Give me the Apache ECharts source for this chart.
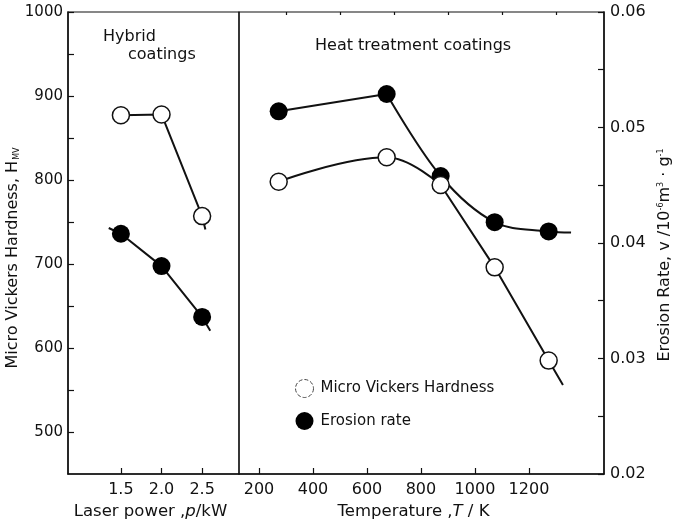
<!DOCTYPE html>
<html>
<head>
<meta charset="utf-8">
<script src="https://cdn.jsdelivr.net/npm/echarts@6/dist/echarts.min.js"></script>
<style>html,body{margin:0;padding:0;background:#fff;}#c{width:675px;height:522px;}</style>
</head>
<body>
<div id="c"></div>
<script>
// ---- data ----
const laserPower = [1.5, 2.0, 2.5];
const hybridHardness = [877, 878, 757];
const hybridErosion = [0.0408, 0.0380, 0.0336];
const temperature = [273, 673, 873, 1073, 1273];
const heatHardness = [798, 827, 794, 696, 585];
const heatErosion = [0.0514, 0.0529, 0.0458, 0.0418, 0.0410];
// ends of the drawn fit lines (beyond the markers)
const hybridHardnessLineEnd = [2.54, 741];
const hybridErosionLineStart = [1.35, 0.0413];
const hybridErosionLineEnd = [2.60, 0.0324];
const heatHardnessLineEnd = [1326, 556];
const heatErosionLineEnd = [1356, 0.0409];
// tick values
const hardnessTicks = [500, 600, 700, 800, 900, 1000];
const hardnessMinorTicks = [550, 650, 750, 850, 950];
const erosionTicks = [0.02, 0.03, 0.04, 0.05, 0.06];
const erosionMinorTicks = [0.025, 0.035, 0.045, 0.055];
const laserTicks = [1.5, 2.0, 2.5];
const tempTicks = [200, 400, 600, 800, 1000, 1200];
const tempMinorTicks = [300, 500, 700, 900, 1100, 1300];

const FONT = 'DejaVu Sans';
const INK = '#111';

const pairs = (xs, ys) => xs.map((x, i) => [x, ys[i]]);

const chart = echarts.init(document.getElementById('c'), null, {renderer: 'canvas'});

const gridCommon = {top: 12, height: 462, show: true, borderColor: INK, borderWidth: 1.2,
  backgroundColor: 'transparent', containLabel: false, outerBoundsMode: 'none'};

const lineBase = {type: 'line', symbol: 'none', z: 2, lineStyle: {color: INK, width: 2}};

const option = {
  animation: false,
  backgroundColor: '#fff',
  textStyle: {fontFamily: FONT, color: INK},
  grid: [
    Object.assign({left: 68, width: 171}, gridCommon),
    Object.assign({left: 239, width: 365}, gridCommon)
  ],
  xAxis: [
    {
      type: 'value', gridIndex: 0, min: 0.8485, max: 2.954,
      axisLine: {show: true, lineStyle: {color: INK, width: 1.5}},
      axisTick: {show: true, inside: true, length: 6, customValues: laserTicks, lineStyle: {color: INK, width: 1.2}},
      axisLabel: {customValues: laserTicks, formatter: v => v.toFixed(1), fontFamily: FONT, fontSize: 16, color: INK, margin: 8},
      splitLine: {show: false},
      name: 'Laser power ,{i|p}/kW', nameLocation: 'middle', nameGap: 24,
      nameTextStyle: {fontFamily: FONT, fontSize: 16.5, color: INK, padding: [0, 6, 0, 0],
        rich: {i: {fontFamily: FONT, fontSize: 16.5, fontStyle: 'italic', color: INK}}}
    },
    {
      type: 'value', gridIndex: 1, min: 126, max: 1478,
      axisLine: {show: true, lineStyle: {color: INK, width: 1.5}},
      axisTick: {show: true, inside: true, length: 6, customValues: tempTicks, lineStyle: {color: INK, width: 1.2}},
      axisLabel: {customValues: tempTicks, formatter: v => String(v), fontFamily: FONT, fontSize: 16, color: INK, margin: 8},
      splitLine: {show: false},
      name: 'Temperature ,{i|T} / K', nameLocation: 'middle', nameGap: 24,
      nameTextStyle: {fontFamily: FONT, fontSize: 16.5, color: INK, padding: [0, 16, 0, 0],
        rich: {i: {fontFamily: FONT, fontSize: 16.5, fontStyle: 'italic', color: INK}}}
    },
    {
      type: 'value', gridIndex: 1, min: 126, max: 1478,
      axisLine: {show: false},
      axisTick: {show: true, inside: true, length: 3, customValues: tempMinorTicks, lineStyle: {color: INK, width: 1.2}},
      axisLabel: {show: false},
      splitLine: {show: false}
    }
  ],
  yAxis: [
    {
      type: 'value', gridIndex: 0, min: 450, max: 1000, position: 'left',
      axisLine: {show: true, lineStyle: {color: INK, width: 1.5}},
      axisTick: {show: true, inside: true, length: 6, customValues: hardnessTicks.concat(hardnessMinorTicks), lineStyle: {color: INK, width: 1.2}},
      axisLabel: {customValues: hardnessTicks, formatter: v => String(v), fontFamily: FONT, fontSize: 15, color: INK, margin: 5},
      splitLine: {show: false},
      name: '{n|Micro Vickers Hardness, H}{s|MV}', nameLocation: 'middle', nameGap: 42, nameRotate: 90,
      nameTextStyle: {padding: [0, 30, 0, 0],
        rich: {n: {fontFamily: FONT, fontSize: 16, color: INK}, s: {fontFamily: FONT, fontSize: 8, color: INK, verticalAlign: 'bottom', padding: [0, 0, 0, 1]}}}
    },
    {
      type: 'value', gridIndex: 0, min: 0.02, max: 0.06, show: false
    },
    {
      type: 'value', gridIndex: 1, min: 450, max: 1000, show: false
    },
    {
      type: 'value', gridIndex: 1, min: 0.02, max: 0.06, position: 'right',
      axisLine: {show: true, lineStyle: {color: INK, width: 1.5}},
      axisTick: {show: true, inside: true, length: 6, customValues: erosionTicks.concat(erosionMinorTicks), lineStyle: {color: INK, width: 1.2}},
      axisLabel: {customValues: erosionTicks, formatter: v => v.toFixed(2), fontFamily: FONT, fontSize: 16, color: INK, margin: 6},
      splitLine: {show: false},
      name: '{n|Erosion Rate, v /10}{p|-6}{n|m}{p|3}{n| · g}{p|-1}', nameLocation: 'middle', nameGap: 42, nameRotate: 90,
      nameTextStyle: {padding: [0, 24, 0, 0],
        rich: {n: {fontFamily: FONT, fontSize: 16, color: INK}, p: {fontFamily: FONT, fontSize: 8, color: INK, verticalAlign: 'top'}}}
    }
  ],
  legend: {
    orient: 'vertical', left: 290, top: 374, itemWidth: 22, itemHeight: 18, itemGap: 14,
    icon: 'circle',
    textStyle: {fontFamily: FONT, fontSize: 15, color: INK},
    data: [
      {name: 'Micro Vickers Hardness', itemStyle: {color: '#fff', borderColor: '#444', borderWidth: 1, borderType: 'dashed'}},
      {name: 'Erosion rate', itemStyle: {color: '#000', borderColor: '#000'}}
    ]
  },
  graphic: [
    {type: 'text', left: 103, top: 29, style: {text: 'Hybrid', font: '16px "DejaVu Sans"', fill: INK}},
    {type: 'text', left: 128, top: 47, style: {text: 'coatings', font: '16px "DejaVu Sans"', fill: INK}},
    {type: 'text', left: 315, top: 38, style: {text: 'Heat treatment coatings', font: '16px "DejaVu Sans"', fill: INK}}
  ],
  series: [
    Object.assign({}, lineBase, {
      name: 'hybrid hardness line', xAxisIndex: 0, yAxisIndex: 0,
      data: pairs(laserPower, hybridHardness).concat([hybridHardnessLineEnd])
    }),
    Object.assign({}, lineBase, {
      name: 'hybrid erosion line', xAxisIndex: 0, yAxisIndex: 1,
      data: [hybridErosionLineStart].concat(pairs(laserPower, hybridErosion), [hybridErosionLineEnd])
    }),
    Object.assign({}, lineBase, {
      name: 'heat hardness line a', xAxisIndex: 1, yAxisIndex: 2, smooth: 0.4,
      data: pairs(temperature.slice(0, 3), heatHardness.slice(0, 3))
    }),
    Object.assign({}, lineBase, {
      name: 'heat hardness line b', xAxisIndex: 1, yAxisIndex: 2,
      data: pairs(temperature.slice(2), heatHardness.slice(2)).concat([heatHardnessLineEnd])
    }),
    Object.assign({}, lineBase, {
      name: 'heat erosion line a', xAxisIndex: 1, yAxisIndex: 3,
      data: pairs(temperature.slice(0, 2), heatErosion.slice(0, 2))
    }),
    Object.assign({}, lineBase, {
      name: 'heat erosion line b', xAxisIndex: 1, yAxisIndex: 3, smooth: 0.35,
      data: pairs(temperature.slice(1), heatErosion.slice(1)).concat([heatErosionLineEnd])
    }),
    {
      type: 'scatter', name: 'Micro Vickers Hardness', xAxisIndex: 0, yAxisIndex: 0, symbol: 'circle', symbolSize: 17, z: 5,
      itemStyle: {color: '#fff', borderColor: INK, borderWidth: 1.5, opacity: 1},
      data: pairs(laserPower, hybridHardness)
    },
    {
      type: 'scatter', name: 'Micro Vickers Hardness', xAxisIndex: 1, yAxisIndex: 2, symbol: 'circle', symbolSize: 17, z: 5,
      itemStyle: {color: '#fff', borderColor: INK, borderWidth: 1.5, opacity: 1},
      data: pairs(temperature, heatHardness)
    },
    {
      type: 'scatter', name: 'Erosion rate', xAxisIndex: 0, yAxisIndex: 1, symbol: 'circle', symbolSize: 18, z: 4,
      itemStyle: {color: '#000', borderColor: '#000', borderWidth: 0, opacity: 1},
      data: pairs(laserPower, hybridErosion)
    },
    {
      type: 'scatter', name: 'Erosion rate', xAxisIndex: 1, yAxisIndex: 3, symbol: 'circle', symbolSize: 18, z: 4,
      itemStyle: {color: '#000', borderColor: '#000', borderWidth: 0, opacity: 1},
      data: pairs(temperature, heatErosion)
    }
  ]
};
chart.setOption(option);
</script>
</body>
</html>
